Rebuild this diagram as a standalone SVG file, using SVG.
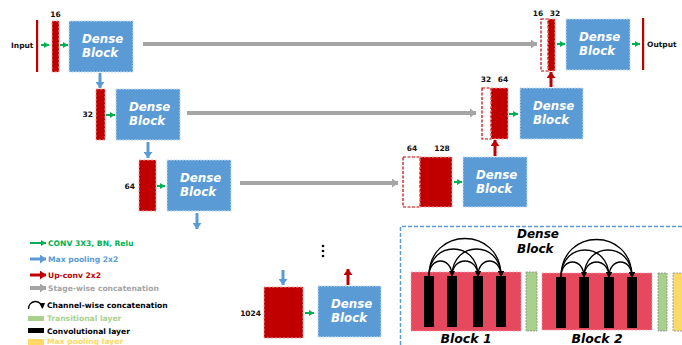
<svg xmlns="http://www.w3.org/2000/svg" width="682" height="345" viewBox="0 0 682 345">
<style>
text{font-family:"DejaVu Sans","Liberation Sans",sans-serif;font-weight:bold}
.db rect{fill:#5b9bd5;stroke:#c5dcf1;stroke-width:1;stroke-dasharray:2 1}
.db text{fill:#fff;font-style:italic;font-size:11.8px}
.rb{fill:#c00000;stroke:#f2a0a0;stroke-width:1;stroke-dasharray:2.5 1.5}
.re{fill:#fff;stroke:#c00000;stroke-width:1.2;stroke-dasharray:3 1.5}
.lb{font-size:7.5px;fill:#111}
.lg{font-size:7.6px}
.g{stroke:#00b050;stroke-width:2;fill:none}
.b{stroke:#5b9bd5;stroke-width:3;fill:none}
.r{stroke:#c00000;stroke-width:3;fill:none}
.gr{stroke:#a5a5a5;stroke-width:4;fill:none}
.k{stroke:#000;stroke-width:1.3;fill:none}
.pink{fill:#e6485e;stroke:#f5a3ae;stroke-width:0.8;stroke-dasharray:2 1.5}
.bar{fill:#000}
.tr{fill:#a9d18e;stroke:#8a8a8a;stroke-width:0.8;stroke-dasharray:2 1}
.mp{fill:#ffd966;stroke:#8a8a8a;stroke-width:0.8;stroke-dasharray:2 1}
</style>
<defs>
<marker id="hg" markerUnits="userSpaceOnUse" markerWidth="5" markerHeight="6" viewBox="0 0 5 6" refX="5" refY="3" orient="auto"><path d="M0,0L5,3L0,6z" fill="#00b050"/></marker>
<marker id="hb" markerUnits="userSpaceOnUse" markerWidth="6" markerHeight="9" viewBox="0 0 6 9" refX="6" refY="4.5" orient="auto"><path d="M0,0L6,4.5L0,9z" fill="#5b9bd5"/></marker>
<marker id="hr" markerUnits="userSpaceOnUse" markerWidth="6" markerHeight="9" viewBox="0 0 6 9" refX="6" refY="4.5" orient="auto"><path d="M0,0L6,4.5L0,9z" fill="#c00000"/></marker>
<marker id="hgr" markerUnits="userSpaceOnUse" markerWidth="6" markerHeight="9" viewBox="0 0 6 9" refX="6" refY="4.5" orient="auto"><path d="M0,0L6,4.5L0,9z" fill="#a5a5a5"/></marker>
<marker id="hk" markerUnits="userSpaceOnUse" markerWidth="6" markerHeight="6" viewBox="0 0 6 6" refX="5" refY="3" orient="auto"><path d="M0,0L6,3L0,6z" fill="#000"/></marker>
</defs>
<rect width="682" height="345" fill="#fff"/>

<!-- input / output -->
<g id="input"><text class="lb" x="11" y="47.5">Input</text><rect x="36" y="20" width="2.2" height="52" fill="#c00000"/></g>
<g id="output"><text class="lb" x="647" y="47">Output</text><rect x="642" y="18" width="2.2" height="52" fill="#c00000"/></g>

<!-- feature maps -->
<g id="fm16"><rect class="rb" x="52" y="21" width="7" height="51"/><text class="lb" x="55.5" y="17" text-anchor="middle">16</text></g>
<g id="fm32"><rect class="rb" x="96" y="89" width="9" height="51"/><text class="lb" x="93" y="117" text-anchor="end">32</text></g>
<g id="fm64"><rect class="rb" x="139" y="160" width="17" height="51"/><text class="lb" x="135" y="189" text-anchor="end">64</text></g>
<g id="fm1024"><rect class="rb" x="264" y="287" width="39" height="51"/><text class="lb" x="261" y="316" text-anchor="end">1024</text></g>
<g id="cat3"><rect class="re" x="403" y="157" width="17" height="50"/><rect class="rb" x="420" y="157" width="32" height="50"/><text class="lb" x="412" y="151" text-anchor="middle">64</text><text class="lb" x="442" y="151" text-anchor="middle">128</text></g>
<g id="cat2"><rect class="re" x="482" y="88" width="9" height="51"/><rect class="rb" x="491" y="88" width="17" height="51"/><text class="lb" x="486" y="82" text-anchor="middle">32</text><text class="lb" x="503" y="82" text-anchor="middle">64</text></g>
<g id="cat1"><rect class="re" x="541" y="19" width="7" height="52"/><rect class="rb" x="548" y="19" width="7" height="52"/><text class="lb" x="538" y="16" text-anchor="middle">16</text><text class="lb" x="555" y="16" text-anchor="middle">32</text></g>

<!-- dense blocks -->
<g id="db1" class="db"><rect x="69" y="21" width="64" height="51"/><text x="82" y="43">Dense</text><text x="82" y="57">Block</text></g>
<g id="db2" class="db"><rect x="116" y="89" width="64" height="51"/><text x="129" y="111">Dense</text><text x="129" y="125">Block</text></g>
<g id="db3" class="db"><rect x="167" y="160" width="64" height="51"/><text x="180" y="182">Dense</text><text x="180" y="196">Block</text></g>
<g id="db4" class="db"><rect x="318" y="286" width="63" height="51"/><text x="331" y="308">Dense</text><text x="331" y="322">Block</text></g>
<g id="db5" class="db"><rect x="463" y="157" width="64" height="50"/><text x="476" y="179">Dense</text><text x="476" y="193">Block</text></g>
<g id="db6" class="db"><rect x="520" y="88" width="63" height="51"/><text x="533" y="110">Dense</text><text x="533" y="124">Block</text></g>
<g id="db7" class="db"><rect x="566" y="19" width="64" height="51"/><text x="579" y="41">Dense</text><text x="579" y="55">Block</text></g>

<g id="dots"><circle cx="323" cy="246" r="1.3" fill="#000"/><circle cx="323" cy="251" r="1.3" fill="#000"/><circle cx="323" cy="256" r="1.3" fill="#000"/></g>

<!-- connectors -->
<g id="connectors">
<line class="g" x1="41" y1="45" x2="49" y2="45" marker-end="url(#hg)"/>
<line class="g" x1="60" y1="45" x2="68" y2="45" marker-end="url(#hg)"/>
<line class="g" x1="106" y1="115" x2="115" y2="115" marker-end="url(#hg)"/>
<line class="g" x1="157" y1="186" x2="165" y2="186" marker-end="url(#hg)"/>
<line class="g" x1="305" y1="313" x2="314" y2="313" marker-end="url(#hg)"/>
<line class="g" x1="454" y1="182" x2="462" y2="182" marker-end="url(#hg)"/>
<line class="g" x1="509" y1="114" x2="518" y2="114" marker-end="url(#hg)"/>
<line class="g" x1="557" y1="44" x2="565" y2="44" marker-end="url(#hg)"/>
<line class="g" x1="632" y1="44" x2="640" y2="44" marker-end="url(#hg)"/>
<line class="b" x1="100" y1="73" x2="100" y2="88" marker-end="url(#hb)"/>
<line class="b" x1="148" y1="142" x2="148" y2="158" marker-end="url(#hb)"/>
<line class="b" x1="197" y1="213" x2="197" y2="229" marker-end="url(#hb)"/>
<line class="b" x1="283" y1="270" x2="283" y2="285" marker-end="url(#hb)"/>
<line class="r" x1="551" y1="87" x2="551" y2="72" marker-end="url(#hr)"/>
<line class="r" x1="495" y1="156" x2="495" y2="140" marker-end="url(#hr)"/>
<line class="r" x1="348" y1="285" x2="348" y2="269" marker-end="url(#hr)"/>
<line class="gr" x1="143" y1="44" x2="537" y2="44" marker-end="url(#hgr)"/>
<line class="gr" x1="187" y1="113" x2="476" y2="113" marker-end="url(#hgr)"/>
<line class="gr" x1="240" y1="183" x2="398" y2="183" marker-end="url(#hgr)"/>
</g>

<!-- legend -->
<g id="legend">
<line class="g" x1="30" y1="243" x2="46" y2="243" stroke-width="2.5" marker-end="url(#hg)"/>
<text class="lg" x="48" y="246" fill="#00b050">CONV 3X3, BN, Relu</text>
<line class="b" x1="30" y1="259" x2="46" y2="259" marker-end="url(#hb)"/>
<text class="lg" x="48" y="262" fill="#5b9bd5">Max pooling 2x2</text>
<line class="r" x1="30" y1="275" x2="46" y2="275" marker-end="url(#hr)"/>
<text class="lg" x="48" y="278" fill="#c00000">Up-conv 2x2</text>
<line class="gr" x1="30" y1="288" x2="46" y2="288" stroke-width="3" marker-end="url(#hgr)"/>
<text class="lg" x="48" y="291" fill="#a5a5a5">Stage-wise concatenation</text>
<path class="k" d="M28.5,309 A7,7 0 0 1 42.5,308" marker-end="url(#hk)"/>
<text class="lg" x="47" y="308" fill="#000">Channel-wise concatenation</text>
<rect x="28" y="316" width="16" height="5" fill="#a9d18e"/>
<text class="lg" x="47" y="321" fill="#a9d18e">Transitional layer</text>
<rect x="28" y="328" width="16" height="5" fill="#000"/>
<text class="lg" x="47" y="334" fill="#000">Convolutional layer</text>
<rect x="28" y="339" width="16" height="6" fill="#ffd966"/>
<text class="lg" x="47" y="344" fill="#ffd966">Max pooling layer</text>
</g>

<!-- dense block inset -->
<g id="inset">
<path d="M400.5,345 V226.5 H682" fill="none" stroke="#5b9bd5" stroke-width="1.5" stroke-dasharray="4 2"/>
<text x="517" y="238" font-size="12" font-style="italic" fill="#000">Dense</text>
<text x="517" y="253" font-size="12" font-style="italic" fill="#000">Block</text>
<g id="block1">
<rect class="pink" x="411" y="272" width="110" height="59"/>
<rect class="bar" x="424" y="276" width="10" height="51"/>
<rect class="bar" x="447" y="276" width="10" height="51"/>
<rect class="bar" x="473" y="276" width="10" height="51"/>
<rect class="bar" x="496" y="276" width="10" height="51"/>
<path class="k" d="M429,276 C429,256 452,256 452,276" marker-end="url(#hk)"/>
<path class="k" d="M452,276 C452,256 478,256 478,276" marker-end="url(#hk)"/>
<path class="k" d="M478,276 C478,256 501,256 501,276" marker-end="url(#hk)"/>
<path class="k" d="M429,276 C429,240 478,240 478,276" marker-end="url(#hk)"/>
<path class="k" d="M452,276 C452,240 501,240 501,276" marker-end="url(#hk)"/>
<path class="k" d="M429,276 C429,226 501,226 501,276" marker-end="url(#hk)"/>
<text x="466" y="343" font-size="12.5" font-style="italic" fill="#000" text-anchor="middle">Block 1</text>
</g>
<rect class="tr" x="526" y="272" width="11" height="59"/>
<g id="block2">
<rect class="pink" x="542" y="273" width="110" height="57"/>
<rect class="bar" x="556" y="277" width="10" height="51"/>
<rect class="bar" x="579" y="277" width="10" height="51"/>
<rect class="bar" x="604" y="277" width="10" height="51"/>
<rect class="bar" x="627" y="277" width="10" height="51"/>
<path class="k" d="M561,277 C561,257 584,257 584,277" marker-end="url(#hk)"/>
<path class="k" d="M584,277 C584,257 609,257 609,277" marker-end="url(#hk)"/>
<path class="k" d="M609,277 C609,257 632,257 632,277" marker-end="url(#hk)"/>
<path class="k" d="M561,277 C561,241 609,241 609,277" marker-end="url(#hk)"/>
<path class="k" d="M584,277 C584,241 632,241 632,277" marker-end="url(#hk)"/>
<path class="k" d="M561,277 C561,227 632,227 632,277" marker-end="url(#hk)"/>
<text x="597" y="343" font-size="12.5" font-style="italic" fill="#000" text-anchor="middle">Block 2</text>
</g>
<rect class="tr" x="658" y="273" width="9" height="58"/>
<rect class="mp" x="673" y="273" width="10" height="58"/>
</g>
</svg>
